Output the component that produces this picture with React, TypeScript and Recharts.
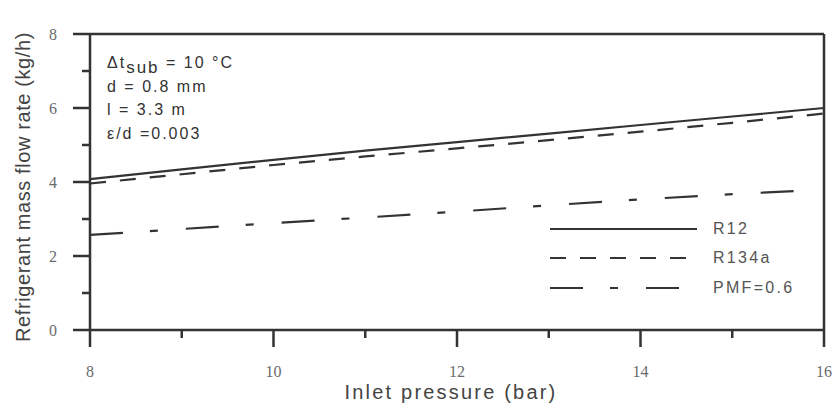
import { LineChart, Line, XAxis, YAxis, ReferenceLine, Legend } from "recharts";

const pressureR12 = [8, 9, 10, 11, 12, 13, 14, 15, 16];
const r12Flow = [4.08, 4.34, 4.6, 4.85, 5.08, 5.31, 5.54, 5.77, 6.0];

const pressureR134a = [8, 9, 10, 11, 12, 13, 14, 15, 16];
const r134aFlow = [3.96, 4.21, 4.46, 4.69, 4.91, 5.13, 5.36, 5.6, 5.85];

const pressurePmf = [8, 9, 10, 11, 12, 13, 14, 15, 15.7];
const pmfFlow = [2.57, 2.73, 2.89, 3.04, 3.2, 3.37, 3.53, 3.67, 3.76];

const xTicks = [8, 9, 10, 11, 12, 13, 14, 15, 16];
const xLabels = [8, 10, 12, 14, 16];
const yTicks = [0, 1, 2, 3, 4, 5, 6, 7, 8];
const yLabels = [0, 2, 4, 6, 8];

const INK = "#333";
const SANS = "Liberation Sans, Arial, sans-serif";
const SERIF = "Liberation Serif, Times New Roman, serif";

const toPoints = (xs: number[], ys: number[]) => xs.map((x, i) => ({ x, y: ys[i] }));

const series = [
  { name: "R12", data: toPoints(pressureR12, r12Flow), dash: undefined },
  { name: "R134a", data: toPoints(pressureR134a, r134aFlow), dash: "16 14" },
  { name: "PMF=0.6", data: toPoints(pressurePmf, pmfFlow), dash: "33 27 8 28" },
];

// eslint-disable-next-line @typescript-eslint/no-explicit-any
function XTick({ x, y, payload }: any) {
  const major = xLabels.includes(payload.value);
  return (
    <g>
      <line x1={x} x2={x} y1={y} y2={y + (major ? 17 : 8)} stroke={INK} strokeWidth={2.5} />
      {major && (
        <text x={x} y={y + 47} textAnchor="middle" fontFamily={SERIF} fontSize={16} fill="#6a6a6a">
          {payload.value}
        </text>
      )}
    </g>
  );
}

// eslint-disable-next-line @typescript-eslint/no-explicit-any
function YTick({ x, y, payload }: any) {
  const major = yLabels.includes(payload.value);
  return (
    <g>
      <line x1={x - (major ? 17 : 8)} x2={x} y1={y} y2={y} stroke={INK} strokeWidth={2.5} />
      {major && (
        <text x={x - 33} y={y + 6} textAnchor="end" fontFamily={SERIF} fontSize={16} fill="#6a6a6a">
          {payload.value}
        </text>
      )}
    </g>
  );
}

function CustomLegend() {
  return (
    <div style={{ fontFamily: SANS, fontSize: 16, letterSpacing: 2.3, color: "#555" }}>
      {series.map((s) => (
        <div key={s.name} style={{ display: "flex", alignItems: "center", height: 29.5, whiteSpace: "nowrap" }}>
          <svg width={163} height={10} style={{ flexShrink: 0 }}>
            <line x1={0} x2={147} y1={5} y2={5} stroke={INK} strokeWidth={2.2} strokeDasharray={s.dash} />
          </svg>
          <span>{s.name}</span>
        </div>
      ))}
    </div>
  );
}

export default function App() {
  return (
    <div style={{ position: "absolute", left: 0, top: 0, width: 835, height: 411, background: "#fff" }}>
      <LineChart width={835} height={411} margin={{ top: 34, right: 11, bottom: 51, left: 30 }}>
        <XAxis
          dataKey="x"
          type="number"
          domain={[8, 16]}
          ticks={xTicks}
          allowDuplicatedCategory={false}
          height={30}
          tickSize={0}
          tickMargin={0}
          tickLine={false}
          axisLine={{ stroke: INK, strokeWidth: 2.5 }}
          tick={<XTick />}
          interval={0}
        />
        <YAxis
          type="number"
          domain={[0, 8]}
          ticks={yTicks}
          width={60}
          tickSize={0}
          tickMargin={0}
          tickLine={false}
          axisLine={{ stroke: INK, strokeWidth: 2.5 }}
          tick={<YTick />}
          interval={0}
        />
        <ReferenceLine y={8} stroke={INK} strokeWidth={2.5} />
        <ReferenceLine x={16} stroke={INK} strokeWidth={2.5} />
        {series.map((s) => (
          <Line
            key={s.name}
            data={s.data}
            dataKey="y"
            name={s.name}
            type="linear"
            stroke={INK}
            strokeWidth={2.2}
            strokeDasharray={s.dash}
            dot={false}
            activeDot={false}
            isAnimationActive={false}
          />
        ))}
        <Legend
          layout="horizontal"
          verticalAlign="middle"
          align="center"
          content={<CustomLegend />}
          wrapperStyle={{ position: "absolute", left: 550, top: 214, width: 280 }}
        />
      </LineChart>
      <div
        style={{
          position: "absolute",
          left: 107,
          top: 51,
          fontFamily: SANS,
          fontSize: 16,
          letterSpacing: 2,
          color: "#333",
          lineHeight: "23.5px",
          whiteSpace: "nowrap",
        }}
      >
        <div>
          Δt<sub style={{ fontSize: 17, verticalAlign: "-5px", lineHeight: 0 }}>sub</sub> = 10 °C
        </div>
        <div>d = 0.8 mm</div>
        <div>l = 3.3 m</div>
        <div>ε/d =0.003</div>
      </div>
      <div
        style={{
          position: "absolute",
          left: 23,
          top: 187,
          transform: "translate(-50%, -50%) rotate(-90deg)",
          whiteSpace: "nowrap",
          fontFamily: SANS,
          fontSize: 20,
          letterSpacing: 0.6,
          color: "#444",
        }}
      >
        Refrigerant mass flow rate (kg/h)
      </div>
      <div
        style={{
          position: "absolute",
          left: 451,
          top: 392,
          transform: "translate(-50%, -50%)",
          whiteSpace: "nowrap",
          fontFamily: SANS,
          fontSize: 20,
          letterSpacing: 2.2,
          color: "#444",
        }}
      >
        Inlet pressure (bar)
      </div>
    </div>
  );
}
